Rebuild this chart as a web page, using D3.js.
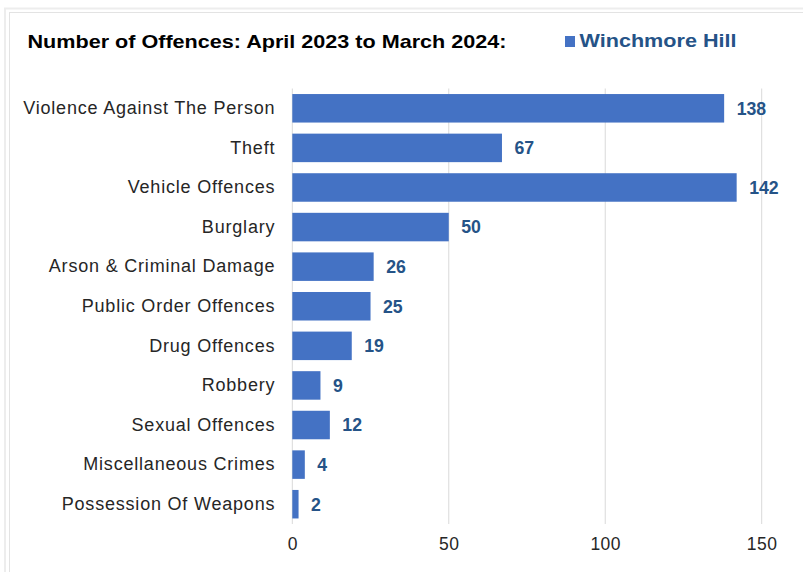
<!DOCTYPE html>
<html>
<head>
<meta charset="utf-8">
<script src="https://cdn.jsdelivr.net/npm/d3@7"></script>
<style>
body { margin: 0; background: #fff; }
text { font-family: "Liberation Sans", Arial, sans-serif; }
</style>
</head>
<body>
<script>
var width = 803, height = 572;
var categories = ['Violence Against The Person', 'Theft', 'Vehicle Offences', 'Burglary',
	'Arson & Criminal Damage', 'Public Order Offences', 'Drug Offences', 'Robbery',
	'Sexual Offences', 'Miscellaneous Crimes', 'Possession Of Weapons'];
var values = [138, 67, 142, 50, 26, 25, 19, 9, 12, 4, 2];
var xTicks = [0, 50, 100, 150];
var seriesName = 'Winchmore Hill';
var titleText = 'Number of Offences: April 2023 to March 2024:';

var margin = {top: 88.5, left: 292.3, bottom: 48};
var svg = d3.select('body').append('svg')
	.attr('width', width)
	.attr('height', height);

//Frame: a faint outer band and a thin inner line, running off right and bottom.
svg.append('rect')
	.attr('x', 5).attr('y', 8.5).attr('width', 900).attr('height', 700)
	.style('fill', 'none').style('stroke', '#ededed').style('stroke-width', 2);
svg.append('rect')
	.attr('x', 9.5).attr('y', 12.5).attr('width', 900).attr('height', 700)
	.style('fill', 'none').style('stroke', '#e3e3e3').style('stroke-width', 1);

var xScale = d3.scaleLinear().domain([0, 150]).range([margin.left, 761.7]);
var yScale = d3.scaleBand().domain(categories).range([margin.top, 524]).paddingInner(0.28).paddingOuter(0.14);

//Gridlines
svg.append('g').selectAll('line').data(xTicks).enter().append('line')
	.attr('x1', function(d) { return xScale(d); })
	.attr('x2', function(d) { return xScale(d); })
	.attr('y1', margin.top)
	.attr('y2', 524)
	.style('stroke', '#d9d9d9')
	.style('stroke-width', 1);

//X axis tick labels
var xAxis = svg.append('g')
	.attr('transform', 'translate(0,524)')
	.call(d3.axisBottom(xScale).tickValues(xTicks).tickSize(0).tickPadding(14));
xAxis.select('.domain').remove();
xAxis.selectAll('text')
	.style('font-family', '"Liberation Sans", Arial, sans-serif')
	.style('font-size', '17.5px')
	.style('letter-spacing', '0.5px')
	.style('fill', '#262626');

//Y axis category labels
var yAxis = svg.append('g')
	.attr('transform', 'translate(' + margin.left + ',0)')
	.call(d3.axisLeft(yScale).tickSize(0).tickPadding(17));
yAxis.select('.domain').remove();
yAxis.selectAll('text')
	.style('font-family', '"Liberation Sans", Arial, sans-serif')
	.style('font-size', '18px')
	.style('letter-spacing', '0.8px')
	.style('fill', '#262626');

//Bars
svg.append('g').selectAll('.bar').data(values).enter().append('rect')
	.attr('class', 'bar')
	.attr('x', xScale(0))
	.attr('y', function(d, i) { return yScale(categories[i]); })
	.attr('width', function(d) { return xScale(d) - xScale(0); })
	.attr('height', yScale.bandwidth())
	.style('fill', '#4472c4');

//Value labels
svg.append('g').selectAll('.val').data(values).enter().append('text')
	.attr('class', 'val')
	.attr('x', function(d) { return xScale(d) + 12.5; })
	.attr('y', function(d, i) { return yScale(categories[i]) + yScale.bandwidth() / 2; })
	.attr('dy', '0.36em')
	.style('font-size', '17.7px')
	.style('font-weight', 'bold')
	.style('fill', '#255387')
	.text(function(d) { return d; });

//Title
svg.append('text')
	.attr('x', 27.5).attr('y', 48.3)
	.attr('textLength', 479)
	.attr('lengthAdjust', 'spacingAndGlyphs')
	.style('font-size', '17.7px')
	.style('font-weight', 'bold')
	.style('fill', '#000')
	.text(titleText);

//Legend
svg.append('rect')
	.attr('x', 565).attr('y', 36).attr('width', 10).attr('height', 11)
	.style('fill', '#4472c4');
svg.append('text')
	.attr('x', 579.5).attr('y', 46.7)
	.attr('textLength', 157)
	.attr('lengthAdjust', 'spacingAndGlyphs')
	.style('font-size', '17.7px')
	.style('font-weight', 'bold')
	.style('fill', '#255387')
	.text(seriesName);
</script>
</body>
</html>
